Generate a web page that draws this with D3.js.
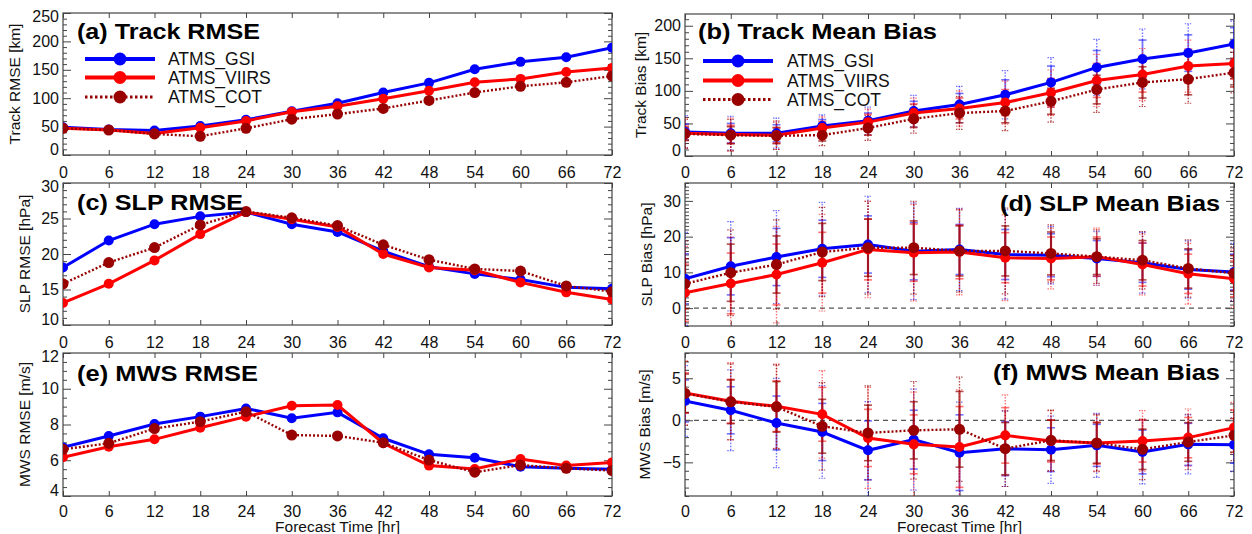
<!DOCTYPE html>
<html><head><meta charset="utf-8">
<script src="https://cdn.jsdelivr.net/npm/d3@7"></script>
<style>
body{margin:0;background:#fff;}
svg{display:block;font-family:"Liberation Sans",Arial,Helvetica,sans-serif;}
</style>
</head><body>
<svg id="chart" width="1252" height="534"></svg>
<script>
// ---------------- data ----------------
const hours = [0,6,12,18,24,30,36,42,48,54,60,66,72];
const seriesNames = ["ATMS_GSI","ATMS_VIIRS","ATMS_COT"];

// (a) Track RMSE [km]
const trackRmseGSI   = [49,45,43,51,62,77,91,110,127,151,164,172,189];
const trackRmseVIIRS = [47,44,38,48,60,76,86,99,113,128,134,146,153];
const trackRmseCOT   = [47,44,37,33,47,63,72,82,96,110,121,128,139];

// (b) Track Mean Bias [km]
const trackBiasGSI   = [37,35,35,46,54,69,79,94,113,136,149,158,172];
const trackBiasVIIRS = [35,33,32,43,52,66,73,82,97,116,125,138,142];
const trackBiasCOT   = [34,32,31,32,43,57,66,69,84,102,113,118,128];
const trackBiasSdGSI    = [12,15,13,10,12,15,17,23,25,26,29,28,25];
const trackBiasExtGSI   = [25,26,23,17,21,24,28,37,38,43,46,45,35];
const trackBiasSdVIIRS  = [11,14,12,10,12,14,16,20,22,26,27,26,24];
const trackBiasExtVIIRS = [23,25,22,17,20,23,27,33,35,40,40,40,33];
const trackBiasSdCOT    = [10,13,12,9,11,13,15,18,20,22,24,24,22];
const trackBiasExtCOT   = [22,24,21,16,19,22,25,30,32,35,37,37,31];

// (c) SLP RMSE [hPa]
const slpRmseGSI   = [18.1,21.9,24.2,25.3,25.9,24.2,23.1,20.4,18.2,17.2,16.4,15.3,15.1];
const slpRmseVIIRS = [13.1,15.8,19.1,22.8,25.9,24.9,23.8,20.0,18.1,17.7,16.0,14.6,13.6];
const slpRmseCOT   = [15.8,18.8,20.9,24.1,26.0,25.1,24.0,21.3,19.2,17.9,17.6,15.5,14.7];

// (d) SLP Mean Bias [hPa]
const slpBiasGSI   = [8.2,11.7,14.3,16.6,17.8,15.9,16.4,15.0,14.8,13.9,12.7,10.8,10.1];
const slpBiasVIIRS = [4.3,6.9,9.4,12.7,16.4,15.5,15.7,14.1,13.9,14.4,12.2,9.6,8.2];
const slpBiasCOT   = [6.8,9.9,12.2,15.7,16.9,16.9,16.0,16.0,15.3,14.4,13.4,11.1,9.7];
const slpBiasSdGSI    = [7,8,8,8,8,8,7,7,6,5,5.5,5.5,5];
const slpBiasExtGSI   = [13,12.5,13,13,13.5,13.5,11.5,12.5,8,7.5,8.5,8,8];
const slpBiasSdVIIRS  = [8,8.5,8.5,8.5,8.5,8,7.5,7,6,5.5,6,5.5,5];
const slpBiasExtVIIRS = [13,13,13.5,13.5,13.5,13.5,12,12,8.5,8,8.5,8.5,8];
const slpBiasSdCOT    = [7,8,8,8,8,7.5,7,7,6,5,5.5,5.5,5];
const slpBiasExtCOT   = [12,12,12.5,12.5,13,13,11.5,12,8,7.5,8,8,7.5];

// (e) MWS RMSE [m/s]
const mwsRmseGSI   = [6.72,7.36,8.03,8.44,8.9,8.35,8.68,7.23,6.33,6.14,5.64,5.55,5.49];
const mwsRmseVIIRS = [6.17,6.76,7.17,7.82,8.44,9.05,9.09,6.95,5.7,5.51,6.07,5.7,5.88];
const mwsRmseCOT   = [6.61,6.95,7.77,8.16,8.72,7.41,7.36,6.98,6.01,5.33,5.73,5.55,5.42];

// (f) MWS Mean Bias [m/s]
const mwsBiasGSI   = [2.3,1.19,-0.32,-1.39,-3.57,-2.3,-3.85,-3.37,-3.49,-2.98,-3.77,-2.86,-2.9];
const mwsBiasVIIRS = [3.25,2.26,1.67,0.71,-2.1,-2.86,-3.17,-1.79,-2.46,-2.7,-2.46,-2.06,-0.87];
const mwsBiasCOT   = [3.2,2.2,1.6,-0.71,-1.5,-1.19,-1.07,-3.37,-2.38,-2.7,-3.45,-2.58,-1.79];
const mwsBiasSdGSI    = [2.5,2.8,3.2,3.4,3.5,3.5,4.5,3.2,2.6,2.5,2.6,2.5,2.2];
const mwsBiasExtGSI   = [4.2,4.8,5.3,5.5,5.8,6,6,4.5,4,3.8,3.8,3.5,3.2];
const mwsBiasSdVIIRS  = [2.4,2.6,3,3.2,3.4,3.5,4.8,3.3,2.5,2.5,2.5,2.4,2.1];
const mwsBiasExtVIIRS = [3.8,4.6,5,5.2,6,6.2,6.8,4.8,3.6,3.3,3.6,3.4,3];
const mwsBiasSdCOT    = [2.3,2.6,3,3.2,3.3,3.4,4.5,3.1,2.4,2.4,2.4,2.3,2];
const mwsBiasExtCOT   = [3.8,4.5,5,5.2,5.6,5.8,6.2,4.5,3.6,3.4,3.6,3.3,3];

// y tick labels
const trackRmseTicks = [0,50,100,150,200,250];
const trackBiasTicks = [0,50,100,150,200];
const slpRmseTicks   = [10,15,20,25,30];
const slpBiasTicks   = [0,10,20,30];
const mwsRmseTicks   = [4,6,8,10,12];
const mwsBiasTicks   = [-5,0,5];

// ---------------- styles ----------------
const colors = ["#0000ff","#ff0000","#990000"];
const svg = d3.select("#chart");
let clipId = 0;

function panel(cfg){
  const b = cfg.box;
  const x = d3.scaleLinear().domain([0,72]).range([b.l,b.r]);
  const y = d3.scaleLinear().domain(cfg.yDomain).range([b.b,b.t]);
  const g = svg.append("g");
  const id = "clip"+(clipId++);
  svg.append("clipPath").attr("id",id).append("rect")
    .attr("x",b.l).attr("y",b.t).attr("width",b.r-b.l).attr("height",b.b-b.t);

  // minor ticks
  const [d0,d1] = cfg.yDomain;
  const minor = d3.range(Math.ceil(d0/cfg.minor)*cfg.minor, d1+1e-9, cfg.minor)
    .filter(v=>!cfg.yTicks.some(t=>Math.abs(t-v)<1e-6));
  const axStyle = s => { s.select(".domain").remove(); s.selectAll("line").attr("stroke","#444"); };
  g.append("g").attr("transform",`translate(${b.l},0)`)
    .call(d3.axisLeft(y).tickValues(minor).tickSize(-4).tickFormat("")).call(axStyle);
  g.append("g").attr("transform",`translate(${b.r},0)`)
    .call(d3.axisRight(y).tickValues(minor).tickSize(-4).tickFormat("")).call(axStyle);
  // major y
  const yl = g.append("g").attr("transform",`translate(${b.l},0)`)
    .call(d3.axisLeft(y).tickValues(cfg.yTicks).tickSize(-8).tickPadding(4).tickFormat(d=>d<0?"\u2212"+(-d):d))
    .call(axStyle);
  yl.selectAll("text").attr("font-size",16).attr("fill","#111")
    .attr("font-family","'Liberation Sans',Arial,sans-serif")
    .attr("dy", d => {
      if (Math.abs(d-d0) < 1e-6) return "-0.05em";
      if (Math.abs(d-d1) < 1e-6) return "0.55em";
      return "0.32em";
    });
  g.append("g").attr("transform",`translate(${b.r},0)`)
    .call(d3.axisRight(y).tickValues(cfg.yTicks).tickSize(-8).tickFormat("")).call(axStyle);
  // x
  const xl = g.append("g").attr("transform",`translate(0,${b.b})`)
    .call(d3.axisBottom(x).tickValues(hours).tickSize(-5).tickPadding(cfg.xPad)).call(axStyle);
  xl.selectAll("text").attr("font-size",16).attr("fill","#111")
    .attr("font-family","'Liberation Sans',Arial,sans-serif");
  g.append("g").attr("transform",`translate(0,${b.t})`)
    .call(d3.axisTop(x).tickValues(hours).tickSize(-5).tickFormat("")).call(axStyle);

  // border
  g.append("rect").attr("x",b.l).attr("y",b.t).attr("width",b.r-b.l).attr("height",b.b-b.t)
    .attr("fill","none").attr("stroke","#444").attr("stroke-width",1.2);

  // zero line
  if (cfg.zero) {
    g.append("line").attr("x1",b.l).attr("x2",b.r).attr("y1",y(0)).attr("y2",y(0))
      .attr("stroke","#555").attr("stroke-width",1.3).attr("stroke-dasharray","5,4");
  }

  const pg = g.append("g").attr("clip-path",`url(#${id})`);
  cfg.series.forEach((vals,si)=>{
    const c = colors[si];
    if (cfg.sd) {
      const sd = cfg.sd[si], ext = cfg.ext[si];
      const eb = pg.append("g").attr("stroke",c).attr("stroke-opacity",si===2?0.7:0.55);
      hours.forEach((h,i)=>{
        const xx = x(h), v = vals[i];
        [[v+sd[i],v+ext[i]],[v-sd[i],v-ext[i]]].forEach(([a,e])=>{
          eb.append("line").attr("x1",xx).attr("x2",xx).attr("y1",y(a)).attr("y2",y(e))
            .attr("stroke-width",1.4).attr("stroke-dasharray","1.5,1.5");
          eb.append("line").attr("x1",xx-3.5).attr("x2",xx+3.5).attr("y1",y(e)).attr("y2",y(e))
            .attr("stroke-width",1.2).attr("stroke-dasharray","1.5,1");
        });
        eb.append("line").attr("x1",xx).attr("x2",xx).attr("y1",y(v-sd[i])).attr("y2",y(v+sd[i]))
          .attr("stroke-width",si===2?2.2:1.8);
        [v-sd[i],v+sd[i]].forEach(e=>{
          eb.append("line").attr("x1",xx-4).attr("x2",xx+4).attr("y1",y(e)).attr("y2",y(e))
            .attr("stroke-width",1.6);
        });
      });
    }
  });
  cfg.series.forEach((vals,si)=>{
    const c = colors[si];
    const pts = hours.map((h,i)=>({h, v:vals[i]}));
    const line = d3.line().x(d=>x(d.h)).y(d=>y(d.v));
    pg.append("path").datum(pts).attr("d",line).attr("fill","none").attr("stroke",c)
      .attr("stroke-width", si===2?2.4:3)
      .attr("stroke-dasharray", si===2?"2,2":null);
    pg.selectAll(null).data(pts).enter().append("circle")
      .attr("cx",d=>x(d.h)).attr("cy",d=>y(d.v)).attr("r",si===2?5.5:5).attr("fill",c);
  });

  // title
  g.append("text").attr("x",cfg.titleX).attr("y",cfg.titleY)
    .attr("text-anchor",cfg.titleAnchor||"start").attr("font-size",21.5).attr("font-weight","bold")
    .attr("textLength",cfg.titleW).attr("lengthAdjust","spacingAndGlyphs")
    .attr("fill","#000").text(cfg.title);
  // y label
  g.append("text").attr("transform",`translate(${cfg.yLabelX},${(b.t+b.b)/2}) rotate(-90)`)
    .attr("text-anchor","middle").attr("dy","0.35em").attr("font-size",15.5).attr("fill","#111")
    .text(cfg.yLabel);
  if (cfg.xTitle) {
    g.append("text").attr("x",(b.l+b.r)/2).attr("y",532).attr("text-anchor","middle")
      .attr("font-size",15.5).attr("fill","#111").text("Forecast Time [hr]");
  }
  if (cfg.legend) {
    const L = cfg.legend;
    seriesNames.forEach((n,si)=>{
      const yy = L.rows[si];
      g.append("line").attr("x1",L.x0).attr("x2",L.x1).attr("y1",yy).attr("y2",yy)
        .attr("stroke",colors[si]).attr("stroke-width",si===2?3:4)
        .attr("stroke-dasharray",si===2?"2.5,2.5":null);
      g.append("circle").attr("cx",(L.x0+L.x1)/2).attr("cy",yy).attr("r",6.5).attr("fill",colors[si]);
      g.append("text").attr("x",L.tx).attr("y",yy).attr("dy","0.36em").attr("font-size",17.5)
        .attr("fill","#111").text(n);
    });
  }
}

panel({box:{l:63,r:612,t:13,b:155}, yDomain:[0,250], yTicks:trackRmseTicks, minor:10, xPad:12,
  series:[trackRmseGSI,trackRmseVIIRS,trackRmseCOT],
  title:"(a) Track RMSE", titleX:77, titleY:39, titleW:183, yLabel:"Track RMSE [km]", yLabelX:15,
  legend:{x0:85,x1:155,tx:168,rows:[59,77.5,97]}});

panel({box:{l:685,r:1234,t:14,b:156}, yDomain:[0,218], yTicks:trackBiasTicks, minor:10, xPad:11,
  series:[trackBiasGSI,trackBiasVIIRS,trackBiasCOT],
  sd:[trackBiasSdGSI,trackBiasSdVIIRS,trackBiasSdCOT], ext:[trackBiasExtGSI,trackBiasExtVIIRS,trackBiasExtCOT],
  title:"(b) Track Mean Bias", titleX:698, titleY:39, titleW:239, yLabel:"Track Bias [km]", yLabelX:641,
  legend:{x0:703,x1:773,tx:787,rows:[61,80.5,99.5]}});

panel({box:{l:63,r:612,t:183,b:325}, yDomain:[10,30], yTicks:slpRmseTicks, minor:1, xPad:12,
  series:[slpRmseGSI,slpRmseVIIRS,slpRmseCOT],
  title:"(c) SLP RMSE", titleX:77, titleY:210, titleW:166, yLabel:"SLP RMSE [hPa]", yLabelX:25});

panel({box:{l:685,r:1234,t:183,b:326}, yDomain:[-5,35], yTicks:slpBiasTicks, minor:1, zero:true, xPad:11,
  series:[slpBiasGSI,slpBiasVIIRS,slpBiasCOT],
  sd:[slpBiasSdGSI,slpBiasSdVIIRS,slpBiasSdCOT], ext:[slpBiasExtGSI,slpBiasExtVIIRS,slpBiasExtCOT],
  title:"(d) SLP Mean Bias", titleX:1220, titleY:211, titleW:220, titleAnchor:"end", yLabel:"SLP Bias [hPa]", yLabelX:647});

panel({box:{l:63,r:612,t:353,b:496}, yDomain:[4,12], yTicks:mwsRmseTicks, minor:0.5, xPad:10,
  series:[mwsRmseGSI,mwsRmseVIIRS,mwsRmseCOT],
  title:"(e) MWS RMSE", titleX:77, titleY:381, titleW:181, yLabel:"MWS RMSE [m/s]", yLabelX:25, xTitle:true});

panel({box:{l:685,r:1234,t:353,b:496}, yDomain:[-9,8], yTicks:mwsBiasTicks, minor:1, zero:true, xPad:10,
  series:[mwsBiasGSI,mwsBiasVIIRS,mwsBiasCOT],
  sd:[mwsBiasSdGSI,mwsBiasSdVIIRS,mwsBiasSdCOT], ext:[mwsBiasExtGSI,mwsBiasExtVIIRS,mwsBiasExtCOT],
  title:"(f) MWS Mean Bias", titleX:1220, titleY:380, titleW:227, titleAnchor:"end", yLabel:"MWS Bias [m/s]", yLabelX:645, xTitle:true});
</script>
</body></html>
